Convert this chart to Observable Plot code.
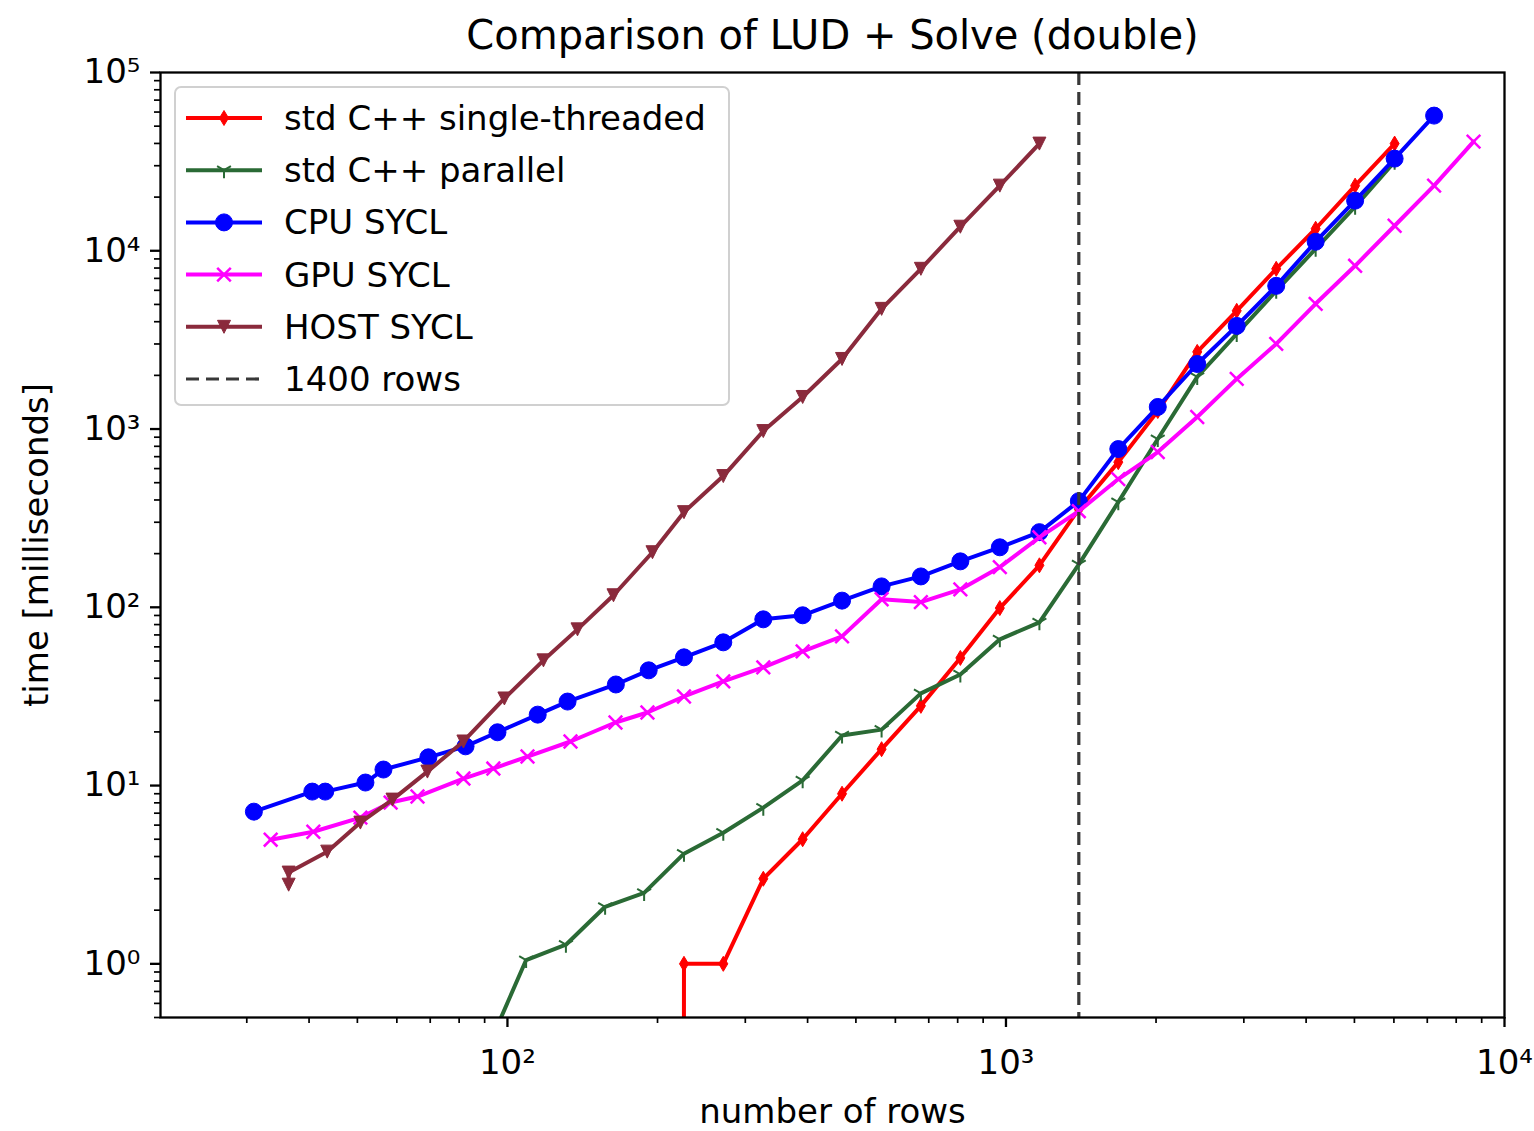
<!DOCTYPE html>
<html>
<head>
<meta charset="utf-8">
<script src="https://cdn.jsdelivr.net/npm/d3@7"></script>
<script src="https://cdn.jsdelivr.net/npm/@observablehq/plot@0.6"></script>
<style>
  html, body { margin: 0; padding: 0; background: white; }
  #wrap { position: relative; width: 1534px; height: 1131px; font-family: "DejaVu Sans", sans-serif; }
  #legend { position: absolute; left: 174px; top: 86px; width: 556px; height: 320px; box-sizing: border-box;
            border: 2px solid #d0d0d0; border-radius: 7px; background: rgba(255,255,255,0.85); }
</style>
</head>
<body>
<div id="wrap"><div id="legend"></div></div>
<script>
// ---------------- data ----------------
const title = "Comparison of LUD + Solve (double)";
const xLabel = "number of rows";
const yLabel = "time [milliseconds]";
const xMajor = [100, 1000, 10000];
const yMajor = [1, 10, 100, 1000, 10000, 100000];
const markerRows = 1400;

const seriesNames = ["std C++ single-threaded", "std C++ parallel", "CPU SYCL", "GPU SYCL", "HOST SYCL"];
const seriesColors = ["#ff0000", "#2a6a35", "#0000ff", "#ff00ff", "#8a2a3c"];
const ruleLabel = "1400 rows";

const singleX = [188, 226, 271, 326, 391, 469, 563, 675, 810, 972, 1167, 1400, 1680, 2016, 2419, 2903, 3484, 4180, 5016, 6020];
const singleY = [0, 1, 1, 3, 5, 9, 16, 28, 52, 99, 172, 355, 652, 1262, 2709, 4603, 7920, 13290, 23190, 39920];

const parallelX = [91, 109, 131, 157, 188, 226, 271, 326, 391, 469, 563, 675, 810, 972, 1167, 1400, 1680, 2016, 2419, 2903, 3484, 4180, 5016, 6020];
const parallelY = [0.33, 1.05, 1.28, 2.09, 2.5, 4.15, 5.44, 7.52, 10.7, 19.1, 20.6, 32.9, 42.0, 66.1, 82.4, 174, 389, 879, 1960, 3418, 5960, 10260, 17660, 31620];

const cpuX = [31, 40.6, 43.1, 51.9, 56.4, 69.4, 82.4, 95.5, 115, 132, 165, 192, 226, 271, 326, 391, 469, 563, 675, 810, 972, 1167, 1400, 1680, 2016, 2419, 2903, 3484, 4180, 5016, 6020, 7224];
const cpuY = [7.14, 9.25, 9.25, 10.4, 12.3, 14.4, 16.6, 19.9, 25.0, 29.6, 36.9, 44.3, 52.4, 63.6, 85.6, 90.2, 109, 131, 149, 181, 217, 264, 394, 772, 1330, 2317, 3790, 6355, 11240, 19100, 32880, 57300];

const gpuX = [33.5, 40.8, 50.7, 58.3, 66.0, 81.6, 93.7, 109.7, 133.8, 164.7, 190.9, 226, 271, 326, 391, 469, 563, 675, 810, 972, 1167, 1400, 1680, 2016, 2419, 2903, 3484, 4180, 5016, 6020, 7224, 8668];
const gpuY = [4.97, 5.51, 6.61, 8.03, 8.68, 10.95, 12.46, 14.55, 17.67, 22.59, 25.7, 31.6, 38.4, 46.0, 56.6, 68.7, 111, 107, 126, 168, 247, 346, 524, 743, 1168, 1910, 3003, 5040, 8236, 13810, 23190, 40950];

const hostX = [36.4, 36.4, 43.5, 50.7, 58.8, 69.1, 81.6, 98.6, 118.1, 138.2, 163.2, 195.4, 226, 271, 326, 391, 469, 563, 675, 810, 972, 1167];
const hostY = [2.78, 3.25, 4.26, 6.20, 8.34, 11.98, 17.67, 30.8, 50.4, 75.2, 116.8, 203.7, 341.8, 544.7, 974, 1513, 2472, 4722, 7920, 13640, 23190, 39920];

// ---------------- marker shapes ----------------
const rOf = s => Math.sqrt(s / Math.PI);
const thinDiamond = {draw(c, s) { const r = rOf(s); c.moveTo(0, -r); c.lineTo(0.6 * r, 0); c.lineTo(0, r); c.lineTo(-0.6 * r, 0); c.closePath(); }};
const triDown = {draw(c, s) { const r = rOf(s); c.moveTo(0, r); c.lineTo(-r, -r); c.lineTo(r, -r); c.closePath(); }};
const tri1 = {draw(c, s) { const r = rOf(s); c.moveTo(0, 0); c.lineTo(0, r); c.moveTo(0, 0); c.lineTo(-0.866 * r, -0.5 * r); c.moveTo(0, 0); c.lineTo(0.866 * r, -0.5 * r); }};
const timesSym = {draw(c, s) { const r = rOf(s) * 0.8; c.moveTo(-r, -r); c.lineTo(r, r); c.moveTo(-r, r); c.lineTo(r, -r); }};
const circleSym = d3.symbolCircle;

const markerStyles = [
  {symbol: thinDiamond, r: 7.5, filled: true, sw: 1},
  {symbol: tri1, r: 8, filled: false, sw: 2},
  {symbol: circleSym, r: 8.5, filled: true, sw: 1},
  {symbol: timesSym, r: 8.5, filled: false, sw: 2.5},
  {symbol: triDown, r: 6.5, filled: true, sw: 1}
];

// log axes clip non-positive values like matplotlib does
const clipPos = v => (v > 0 ? v : 1e-300);
const build = (xs, ys) => xs.map((x, i) => ({x, y: clipPos(ys[i])}));
const series = [build(singleX, singleY), build(parallelX, parallelY), build(cpuX, cpuY), build(gpuX, gpuY), build(hostX, hostY)];

// ---------------- ticks ----------------
const xDomain = [20.14, 10000];
const yDomain = [0.5, 100000];
const minorOf = (majors, dom) => {
  const out = [];
  for (const d of [majors[0] / 10, ...majors]) for (let k = 2; k <= 9; k++) {
    const v = k * d; if (v >= dom[0] && v <= dom[1]) out.push(v);
  }
  return out;
};
const xMinor = minorOf(xMajor, xDomain);
const yMinor = minorOf(yMajor, yDomain);
const supMap = {"0": "⁰", "1": "¹", "2": "²", "3": "³", "4": "⁴", "5": "⁵", "6": "⁶", "-": "⁻"};
const fmt = d => "10" + String(Math.round(Math.log10(d))).split("").map(c => supMap[c]).join("");

// ---------------- marks ----------------
const marks = [];
series.forEach((data, i) => {
  const col = seriesColors[i], m = markerStyles[i];
  marks.push(Plot.line(data, {x: "x", y: "y", stroke: col, strokeWidth: 4, clip: true}));
  marks.push(Plot.dot(data, {
    x: "x", y: "y", r: m.r, symbol: m.symbol, clip: true,
    fill: m.filled ? col : "none", stroke: col, strokeWidth: m.sw
  }));
});
marks.push(Plot.ruleX([markerRows], {stroke: "#383838", strokeWidth: 3.2, strokeDasharray: "13,7"}));
marks.push(Plot.frame({stroke: "black", strokeWidth: 2.3}));
marks.push(Plot.axisX(xMajor, {tickSize: 10, tickPadding: 22, tickFormat: fmt, fontSize: 34, strokeWidth: 2.3, label: null}));
marks.push(Plot.axisX(xMinor, {tickSize: 6, tickFormat: null, text: null, strokeWidth: 1.7, label: null}));
marks.push(Plot.axisY(yMajor, {tickSize: 10, tickPadding: 10, tickFormat: fmt, fontSize: 34, strokeWidth: 2.3, label: null}));
marks.push(Plot.axisY(yMinor, {tickSize: 6, tickFormat: null, text: null, strokeWidth: 1.7, label: null}));
marks.push(Plot.text([title], {text: d => d, frameAnchor: "top", dy: -36, fontSize: 40, textAnchor: "middle", lineAnchor: "middle", fill: "black"}));
marks.push(Plot.text([xLabel], {text: d => d, frameAnchor: "bottom", dy: 95, fontSize: 34, textAnchor: "middle", lineAnchor: "middle", fill: "black"}));
marks.push(Plot.text([yLabel], {text: d => d, frameAnchor: "left", dx: -123, rotate: -90, fontSize: 34, textAnchor: "middle", lineAnchor: "middle", fill: "black"}));

const chart = Plot.plot({
  width: 1534, height: 1131,
  marginLeft: 160, marginRight: 30, marginTop: 72, marginBottom: 114,
  x: {type: "log", domain: xDomain, label: null},
  y: {type: "log", domain: yDomain, label: null},
  style: {fontFamily: "DejaVu Sans", background: "white", color: "black", fontSize: "34px"},
  marks
});
const wrap = document.getElementById("wrap");
wrap.insertBefore(chart, wrap.firstChild);

// ---------------- legend ----------------
const leg = d3.select("#legend").append("svg").attr("width", 552).attr("height", 316)
  .style("position", "absolute").style("left", 0).style("top", 0);
const rowY = i => 30 + 52.2 * i;
const x0 = 10, x1 = 86, tx = 108;
seriesNames.forEach((name, i) => {
  const col = seriesColors[i], m = markerStyles[i], y = rowY(i);
  leg.append("line").attr("x1", x0).attr("x2", x1).attr("y1", y).attr("y2", y)
    .attr("stroke", col).attr("stroke-width", 4);
  leg.append("path").attr("d", d3.symbol().type(m.symbol).size(Math.PI * m.r * m.r)())
    .attr("transform", `translate(${(x0 + x1) / 2},${y})`)
    .attr("fill", m.filled ? col : "none").attr("stroke", col).attr("stroke-width", m.sw);
  leg.append("text").attr("x", tx).attr("y", y).attr("dy", "0.35em")
    .attr("font-family", "DejaVu Sans").attr("font-size", 34).attr("fill", "black").text(name);
});
{
  const y = rowY(5);
  leg.append("line").attr("x1", x0).attr("x2", x1).attr("y1", y).attr("y2", y)
    .attr("stroke", "#383838").attr("stroke-width", 3.2).attr("stroke-dasharray", "13,7");
  leg.append("text").attr("x", tx).attr("y", y).attr("dy", "0.35em")
    .attr("font-family", "DejaVu Sans").attr("font-size", 34).attr("fill", "black").text(ruleLabel);
}
</script>
</body>
</html>
